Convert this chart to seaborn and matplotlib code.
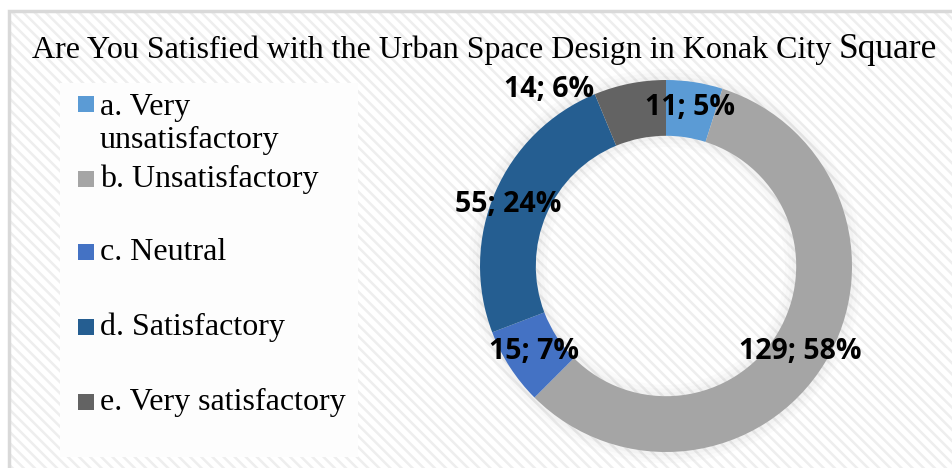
import matplotlib
matplotlib.use("Agg")
import matplotlib.pyplot as plt
import seaborn as sns
from matplotlib.patches import Rectangle

sns.set_theme(style="white")
plt.rcParams['font.family'] = ['DejaVu Sans']
plt.rcParams['hatch.linewidth'] = 1.8

# ---- data ----
categories = ["a. Very\nunsatisfactory", "b. Unsatisfactory", "c. Neutral",
              "d. Satisfactory", "e. Very satisfactory"]
counts = [11, 129, 15, 55, 14]
percents = [5, 58, 7, 24, 6]
title_main = "Are You Satisfied with the Urban Space Design in Konak City"
title_tail = "Square"

# ---- style / layout ----
colors = ["#5B9BD5", "#A5A5A5", "#4472C4", "#255E91", "#636363"]
label_xy = [(0.13, 0.85), (0.72, -0.46), (-0.71, -0.46), (-0.85, 0.33), (-0.63, 0.95)]
legend_rows_px = [104, 179, 252, 327, 402]

W, H = 953, 468
fig = plt.figure(figsize=(W / 100, H / 100), dpi=100)
fig.patch.set_facecolor("white")

def fx(px):
    return px / W

def fy(py):
    return 1 - py / H

# hatched background with border
bg = Rectangle((fx(9), 0), 1 - fx(9), fy(11), transform=fig.transFigure,
               facecolor="white", edgecolor="#EEEEEE", hatch="\\\\\\",
               linewidth=0, zorder=-3)
fig.patches.append(bg)
border = Rectangle((fx(9), -0.01), 1.0, fy(11) + 0.01, transform=fig.transFigure,
                   facecolor="none", edgecolor="#D9D9D9", linewidth=2.5, zorder=-1)
fig.patches.append(border)

# white legend panel
panel = Rectangle((fx(60), fy(457)), fx(358 - 60), fy(83) - fy(457),
                  transform=fig.transFigure, facecolor="#FDFDFD", edgecolor="none",
                  zorder=-2)
fig.patches.append(panel)

# donut axes
R = 186
cx, cy = 666, 266
lim = 1.1
side = 2 * lim * R
ax = fig.add_axes([fx(cx - side / 2), fy(cy + side / 2), fx(side), side / H])
ax.set_zorder(2)
ax.axis("off")
ax.patch.set_alpha(0)

# soft shadow
for i, a in enumerate([0.05, 0.04, 0.03]):
    ax.pie([1], radius=1.0 + 0.02 * (i + 1), colors=["#999999"],
           wedgeprops=dict(width=0.30 + 0.04 * (i + 1), edgecolor="none", alpha=a))

ax.pie(counts, radius=1.0, startangle=90, counterclock=False, colors=colors,
       wedgeprops=dict(width=0.30, edgecolor="none"))
ax.set_xlim(-lim, lim)
ax.set_ylim(-lim, lim)
ax.set_aspect("equal")

for (x, y), c, p in zip(label_xy, counts, percents):
    ax.text(x, y, f"{c}; {p}%", ha="center", va="center", fontsize=20.5,
            fontweight="bold", family="Open Sans", color="black")

# legend
for lab, col, ry in zip(categories, colors, legend_rows_px):
    fig.patches.append(Rectangle((fx(78), fy(ry + 8)), fx(16), 16 / H,
                                 transform=fig.transFigure, facecolor=col,
                                 edgecolor="none", zorder=3))
    if "\n" in lab:
        fig.text(fx(100), fy(ry - 11), lab, ha="left", va="top",
                 fontsize=23, family="Liberation Serif", color="black", zorder=4,
                 linespacing=1.2)
    else:
        fig.text(fx(100), fy(ry), lab, ha="left", va="center",
                 fontsize=23, family="Liberation Serif", color="black", zorder=4)

# title
t1 = fig.text(fx(32), fy(58), title_main, ha="left", va="baseline", fontsize=23,
              family="Liberation Serif", color="black")
fig.canvas.draw()
bb = t1.get_window_extent()
fig.text((bb.x1 + 7) / W, fy(58), title_tail, ha="left", va="baseline", fontsize=25.5,
         family="Liberation Serif", color="black")

fig.savefig("out.png", dpi=100, facecolor=fig.get_facecolor())
